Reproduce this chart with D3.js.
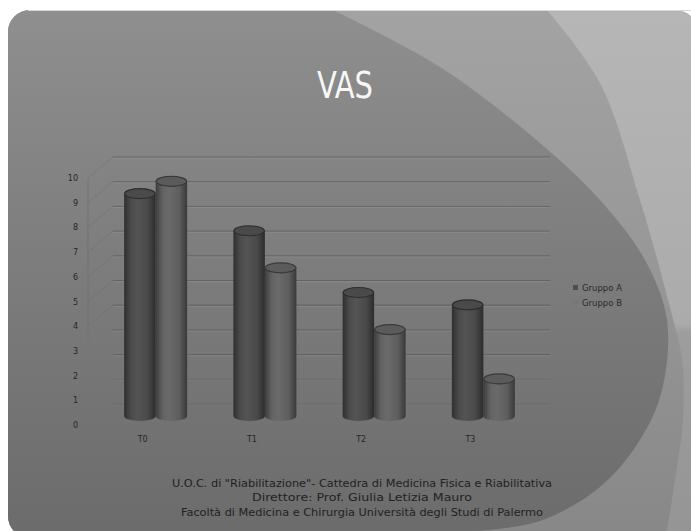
<!DOCTYPE html>
<html>
<head>
<meta charset="utf-8">
<script src="https://cdn.jsdelivr.net/npm/d3@7"></script>
<style>
  html, body { margin: 0; padding: 0; background: #ffffff; }
  svg { display: block; }
</style>
</head>
<body>
<svg id="chart" width="691" height="531"></svg>
<script>
// VAS scores per time point for the two groups
const categories = ["T0", "T1", "T2", "T3"];
const seriesNames = ["Gruppo A", "Gruppo B"];
const groupA = [9, 7.5, 5, 4.5];
const groupB = [9.5, 6, 3.5, 1.5];
const yTicks = [0, 1, 2, 3, 4, 5, 6, 7, 8, 9, 10];
const titleText = "VAS";
const footerLines = [
  "U.O.C. di \"Riabilitazione\"- Cattedra di Medicina Fisica e Riabilitativa",
  "Direttore: Prof. Giulia Letizia Mauro",
  "Facoltà di Medicina e Chirurgia Università degli Studi di Palermo"
];

const W = 691, H = 531;
const svg = d3.select("#chart");
const defs = svg.append("defs");

// ---------- slide background ----------
defs.append("clipPath").attr("id", "slideClip")
  .append("rect").attr("x", 8).attr("y", 10).attr("width", 690).attr("height", 528).attr("rx", 22);

function vGrad(id, stops) {
  const g = defs.append("linearGradient").attr("id", id)
    .attr("gradientUnits", "userSpaceOnUse")
    .attr("x1", 0).attr("y1", 10).attr("x2", 0).attr("y2", 531);
  stops.forEach(s => g.append("stop").attr("offset", s[0]).attr("stop-color", s[1]));
}
vGrad("bgFar", [[0, "#b6b6b6"], [0.6, "#ababab"], [0.62, "#9d9d9d"], [1, "#959595"]]);
vGrad("bgMid", [[0, "#a3a3a3"], [0.5, "#979797"], [1, "#888888"]]);
vGrad("bgMain", [[0, "#8f8f8f"], [0.45, "#7e7e7e"], [1, "#6c6c6c"]]);

const bg = svg.append("g").attr("clip-path", "url(#slideClip)");
bg.append("rect").attr("x", 0).attr("y", 0).attr("width", W).attr("height", H).attr("fill", "url(#bgFar)");

const curve = d3.line().curve(d3.curveCatmullRom.alpha(0.5));
// light band between the outer sweep and the big oval
const outerPts = [[547, 10], [600, 83], [640, 200], [668, 300], [682, 360], [683, 420], [675, 480], [667, 531]];
bg.append("path")
  .attr("d", "M0,0 L547,0 " + curve(outerPts).replace(/^M/, "L") + " L667,540 L0,540 Z")
  .attr("fill", "url(#bgMid)");
// big oval sweeping across the slide
const ovalPts = [[333, 10], [440, 67], [540, 143], [600, 200], [645, 260], [667, 320], [662, 390], [640, 440], [600, 487], [540, 521], [477, 531]];
bg.append("path")
  .attr("d", "M0,0 L333,0 " + curve(ovalPts).replace(/^M/, "L") + " L477,540 L0,540 Z")
  .attr("fill", "url(#bgMain)");
// thin light line along the top edge of the slide
svg.append("line").attr("x1", 28).attr("x2", W).attr("y1", 10.5).attr("y2", 10.5)
  .attr("stroke", "#d8d8d8").attr("stroke-width", 1);

// ---------- title ----------
svg.append("text")
  .attr("x", 345).attr("y", 98)
  .attr("text-anchor", "middle")
  .attr("font-family", "'Liberation Sans Narrow', 'DejaVu Sans Condensed', sans-serif")
  .attr("font-size", 38)
  .attr("textLength", 56).attr("lengthAdjust", "spacingAndGlyphs")
  .attr("fill", "#f7f7f7")
  .text(titleText);

// ---------- 3D chart geometry ----------
const frontLeft = 88, frontRight = 525;
const depthDx = 25, depthDy = -21;      // offset of the back wall
const midDx = 13, midDy = -9;           // plane where the cylinders stand

const x0 = d3.scaleBand().domain(categories).range([frontLeft, frontRight]);
const barW = 31.5;
const x1 = d3.scaleBand().domain(seriesNames).range([-barW, barW]);
const y = d3.scaleLinear().domain([0, 10]).range([425, 178]);

const chart = svg.append("g");

// back wall gridlines
yTicks.forEach(v => {
  const yb = y(v) + depthDy;
  const op = v <= 1 ? 0.2 : 0.5;
  chart.append("line")
    .attr("x1", frontLeft + depthDx).attr("x2", frontRight + depthDx + 0)
    .attr("y1", yb).attr("y2", yb)
    .attr("stroke", "#4a4a4a").attr("stroke-opacity", op).attr("stroke-width", 1);
  chart.append("line")
    .attr("x1", frontLeft + depthDx).attr("x2", frontRight + depthDx)
    .attr("y1", yb + 1.2).attr("y2", yb + 1.2)
    .attr("stroke", "#b8b8b8").attr("stroke-opacity", op * 0.4).attr("stroke-width", 1);
  // side wall diagonal
  chart.append("line")
    .attr("x1", frontLeft).attr("y1", y(v))
    .attr("x2", frontLeft + depthDx).attr("y2", yb)
    .attr("stroke", "#6a6a6a").attr("stroke-opacity", v >= 4 ? 0.4 : 0.15).attr("stroke-width", 1);
});
// side wall front edge
chart.append("line")
  .attr("x1", frontLeft).attr("x2", frontLeft)
  .attr("y1", y(10)).attr("y2", y(4))
  .attr("stroke", "#6a6a6a").attr("stroke-opacity", 0.5);
chart.append("line")
  .attr("x1", frontLeft).attr("x2", frontLeft)
  .attr("y1", y(4)).attr("y2", y(0))
  .attr("stroke", "#6a6a6a").attr("stroke-opacity", 0.12);

// y tick labels
chart.append("g").selectAll("text").data(yTicks).join("text")
  .attr("x", 78).attr("y", d => y(d) + 3)
  .attr("text-anchor", "end")
  .attr("font-family", "'DejaVu Sans', sans-serif")
  .attr("font-size", 8)
  .attr("fill", "#262626")
  .text(d => d);

// category labels
chart.append("g").selectAll("text").data(categories).join("text")
  .attr("x", d => x0(d) + x0.bandwidth() / 2)
  .attr("y", 442)
  .attr("text-anchor", "middle")
  .attr("font-family", "'DejaVu Sans', sans-serif")
  .attr("font-size", 8)
  .attr("fill", "#262626")
  .text(d => d);

// cylinder shading
const palette = {
  "Gruppo A": { stops: ["#2f2f2f", "#4b4b4b", "#545454", "#494949", "#2c2c2c"], top: "#4a4a4a", rim: "#2e2e2e", key: "#4e4e4e" },
  "Gruppo B": { stops: ["#3d3d3d", "#626262", "#6a6a6a", "#5e5e5e", "#393939"], top: "#5b5b5b", rim: "#3a3a3a", key: "#787878" }
};
seriesNames.forEach((s, i) => {
  const g = defs.append("linearGradient").attr("id", "cyl" + i)
    .attr("x1", 0).attr("x2", 1).attr("y1", 0).attr("y2", 0);
  const offs = [0, 0.22, 0.42, 0.75, 1];
  palette[s].stops.forEach((c, k) => g.append("stop").attr("offset", offs[k]).attr("stop-color", c));
});

const barData = [];
categories.forEach((c, ci) => {
  barData.push({ cat: c, series: "Gruppo B", idx: 1, value: groupB[ci] });
  barData.push({ cat: c, series: "Gruppo A", idx: 0, value: groupA[ci] });
});

const ry = 5;
const bars = chart.append("g").selectAll("g").data(barData).join("g");
bars.each(function(d) {
  const g = d3.select(this);
  const left = x0(d.cat) + x0.bandwidth() / 2 + midDx + x1(d.series);
  const cx = left + barW / 2;
  const rx = barW / 2;
  const yTop = y(d.value) + midDy;
  const yBot = y(0) + midDy;
  g.append("path")
    .attr("d", `M${left},${yTop} L${left},${yBot} A${rx},${ry} 0 0 0 ${left + barW},${yBot} L${left + barW},${yTop} Z`)
    .attr("fill", `url(#cyl${d.idx})`);
  g.append("ellipse")
    .attr("cx", cx).attr("cy", yTop).attr("rx", rx - 0.5).attr("ry", ry)
    .attr("fill", palette[d.series].top)
    .attr("stroke", palette[d.series].rim).attr("stroke-width", 1.2);
});

// legend
const legend = chart.append("g").attr("transform", "translate(573,285)");
seriesNames.forEach((s, i) => {
  const row = legend.append("g").attr("transform", `translate(0,${i * 15})`);
  row.append("rect").attr("x", 0).attr("y", 0).attr("width", 5).attr("height", 5)
    .attr("fill", palette[s].key);
  row.append("text").attr("x", 9).attr("y", 6)
    .attr("font-family", "'DejaVu Sans', sans-serif")
    .attr("font-size", 8.5)
    .attr("fill", "#2a2a2a")
    .text(s);
});

// footer credits
const footerWidths = [380, 220, 362];
svg.append("g").selectAll("text").data(footerLines).join("text")
  .attr("x", 362)
  .attr("y", (d, i) => 487 + i * 14.3)
  .attr("text-anchor", "middle")
  .attr("font-family", "'DejaVu Sans', sans-serif")
  .attr("font-size", 10)
  .attr("textLength", (d, i) => footerWidths[i])
  .attr("lengthAdjust", "spacingAndGlyphs")
  .attr("fill", "#222222")
  .text(d => d);
</script>
</body>
</html>
